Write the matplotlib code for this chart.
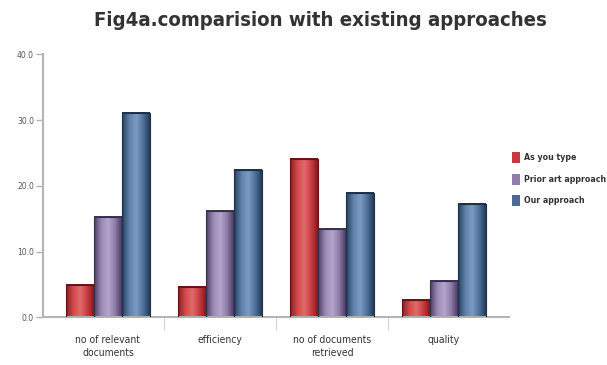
import numpy as np
import matplotlib
matplotlib.use("Agg")
import matplotlib.pyplot as plt
from matplotlib.colors import LinearSegmentedColormap

categories = ["no of relevant\ndocuments", "efficiency", "no of documents\nretrieved", "quality"]
series_names = ["As you type", "Prior art approach", "Our approach"]
as_you_type = [4.9, 4.6, 24.1, 2.7]
prior_art = [15.3, 16.1, 13.4, 5.5]
our_approach = [31.1, 22.4, 18.9, 17.2]
y_ticks = [0, 10, 20, 30, 40]

series_values = [as_you_type, prior_art, our_approach]
flat_colors = ["#c8383c", "#8e7caa", "#4b6b96"]
shades = [
    ["#8e1c20", "#d24a4e", "#e26a6c", "#c83a3e", "#7a1418"],
    ["#4e3f66", "#9a88b6", "#b4a6cc", "#8a78a6", "#3e3256"],
    ["#24405f", "#5f80aa", "#7b9cc4", "#4d6c96", "#1e3452"],
]
edge_colors = ["#6a1014", "#3a2e4e", "#1c2e48"]

fig = plt.figure(figsize=(6.07, 3.65), dpi=100)
ax = fig.add_axes([43 / 607, 1 - 317.3 / 365, (509 - 43) / 607, (317.3 - 54.3) / 365])

x = np.arange(len(categories))
width = 0.25
gradient = np.linspace(0, 1, 64).reshape(1, -1)

for i, (vals, cols) in enumerate(zip(series_values, shades)):
    cmap = LinearSegmentedColormap.from_list(f"shade{i}", cols)
    pos = x + (i - 1) * width
    bars = ax.bar(pos, vals, width, color="none", edgecolor=edge_colors[i],
                  linewidth=0.8, zorder=3)
    for b in bars:
        x0, y0 = b.get_x(), b.get_y()
        w, h = b.get_width(), b.get_height()
        im = ax.imshow(gradient, cmap=cmap, aspect="auto",
                       extent=(x0, x0 + w, y0, y0 + h), zorder=2,
                       interpolation="bicubic")
        im.set_clip_path(b)
        # darker cap at the top of each bar
        ax.plot([x0, x0 + w], [y0 + h, y0 + h], color=edge_colors[i],
                linewidth=1.4, zorder=4, solid_capstyle="butt")

ax.set_xlim(-0.58, 3.58)
ax.set_ylim(0, 40)

for side in ("top", "right"):
    ax.spines[side].set_visible(False)
for side in ("left", "bottom"):
    ax.spines[side].set_color("#b4b4b4")
    ax.spines[side].set_linewidth(1.5)

ax.set_yticks(y_ticks)
ax.set_yticklabels([f"{v:.1f}" for v in y_ticks])
ax.tick_params(axis="y", length=5, width=1, color="#b4b4b4", labelsize=5.5,
               labelcolor="#555555", pad=1.5)

ax.set_xticks(x)
ax.set_xticklabels(categories)
ax.set_xticks(x[:-1] + 0.5, minor=True)
ax.tick_params(axis="x", which="major", length=0, pad=13, labelsize=7.5,
               labelcolor="#333333")
ax.tick_params(axis="x", which="minor", length=9, width=0.8, color="#d0d0d0")
for lbl in ax.get_xticklabels():
    lbl.set_family(["DejaVu Sans"])
    lbl.set_stretch("condensed")
    lbl.set_linespacing(1.3)

fig.text(320 / 607, 1 - 20 / 365, "Fig4a.comparision with existing approaches",
         ha="center", va="center", fontsize=14.6, fontweight="bold",
         color="#333333", family="DejaVu Sans", stretch="condensed")

# legend drawn in figure coordinates beside the plot
for i, name in enumerate(series_names):
    yc = 1 - (157 + i * 22) / 365
    fig.patches.append(plt.Rectangle((512 / 607, yc - 5.5 / 365), 8 / 607, 11 / 365,
                                     transform=fig.transFigure,
                                     facecolor=flat_colors[i], edgecolor="none"))
    fig.text(524 / 607, yc, name, ha="left", va="center", fontsize=6.3,
             fontweight="bold", color="#333333", family="DejaVu Sans",
             stretch="condensed")

fig.savefig("out.png", dpi=100)
